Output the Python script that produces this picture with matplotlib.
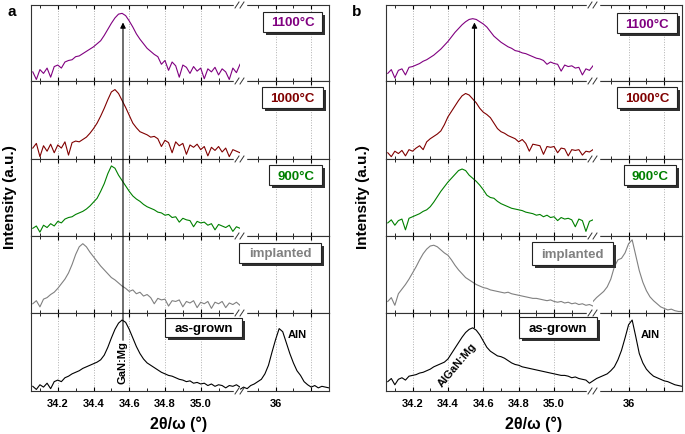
import matplotlib.pyplot as plt
from matplotlib.patches import ConnectionPatch, Rectangle
from matplotlib.lines import Line2D

plt.rcParams['font.family'] = ['Liberation Sans', 'DejaVu Sans']
plt.rcParams['font.weight'] = 'bold'

# 2theta/omega grid (deg)
x_left = [34.06, 34.08, 34.10, 34.12, 34.14, 34.16, 34.18, 34.20, 34.22, 34.24,
          34.26, 34.28, 34.30, 34.32, 34.34, 34.36, 34.38, 34.40, 34.42, 34.44,
          34.46, 34.48, 34.50, 34.52, 34.54, 34.56, 34.58, 34.60, 34.62, 34.64,
          34.66, 34.68, 34.70, 34.72, 34.74, 34.76, 34.78, 34.80, 34.82, 34.84,
          34.86, 34.88, 34.90, 34.92, 34.94, 34.96, 34.98, 35.00, 35.02, 35.04,
          35.06, 35.08, 35.10, 35.12, 35.14, 35.16, 35.18, 35.20, 35.22]
x_right = [35.80, 35.82, 35.84, 35.86, 35.88, 35.90, 35.92, 35.94, 35.96, 35.98,
           36.00, 36.02, 36.04, 36.06, 36.08, 36.10, 36.12, 36.14, 36.16, 36.18,
           36.20, 36.22, 36.24, 36.26, 36.28, 36.30]

labels = ['1100°C', '1000°C', '900°C', 'implanted', 'as-grown']
colors = ['#800080', '#800000', '#008000', '#808080', '#000000']

# panel a (GaN:Mg), normalised intensity
a_1100 = [0.12, 0.02, 0.15, 0.10, 0.17, 0.05, 0.19, 0.21, 0.17, 0.25,
          0.27, 0.28, 0.32, 0.33, 0.36, 0.39, 0.42, 0.45, 0.49, 0.53,
          0.60, 0.68, 0.76, 0.83, 0.88, 0.89, 0.86, 0.79, 0.71, 0.62,
          0.55, 0.49, 0.43, 0.39, 0.35, 0.32, 0.22, 0.27, 0.14, 0.25,
          0.20, 0.05, 0.21, 0.18, 0.10, 0.19, 0.13, 0.17, 0.03, 0.16,
          0.12, 0.18, 0.08, 0.16, 0.12, 0.02, 0.17, 0.11, 0.22]
a_1000 = [0.14, 0.20, 0.03, 0.17, 0.10, 0.19, 0.08, 0.18, 0.14, 0.22,
          0.05, 0.21, 0.23, 0.22, 0.25, 0.28, 0.33, 0.39, 0.46, 0.55,
          0.65, 0.76, 0.86, 0.89, 0.84, 0.75, 0.66, 0.56, 0.46, 0.40,
          0.35, 0.33, 0.31, 0.28, 0.29, 0.26, 0.16, 0.24, 0.21, 0.08,
          0.22, 0.17, 0.20, 0.06, 0.18, 0.15, 0.19, 0.12, 0.16, 0.04,
          0.15, 0.11, 0.16, 0.09, 0.14, 0.03, 0.12, 0.10, 0.08]
a_900 = [0.10, 0.13, 0.05, 0.14, 0.11, 0.16, 0.13, 0.19, 0.17, 0.22,
         0.24, 0.25, 0.28, 0.30, 0.32, 0.35, 0.39, 0.44, 0.49, 0.58,
         0.68, 0.81, 0.91, 0.88, 0.79, 0.72, 0.65, 0.58, 0.52, 0.48,
         0.45, 0.41, 0.38, 0.36, 0.34, 0.31, 0.30, 0.27, 0.28, 0.24,
         0.25, 0.18, 0.23, 0.21, 0.20, 0.12, 0.19, 0.17, 0.18, 0.14,
         0.16, 0.08, 0.15, 0.13, 0.11, 0.14, 0.06, 0.12, 0.10]
a_impl = [0.12, 0.16, 0.08, 0.18, 0.20, 0.24, 0.27, 0.32, 0.38, 0.44,
          0.52, 0.63, 0.76, 0.86, 0.90, 0.86, 0.79, 0.73, 0.67, 0.61,
          0.56, 0.51, 0.46, 0.43, 0.39, 0.35, 0.32, 0.28, 0.30, 0.25,
          0.27, 0.22, 0.24, 0.20, 0.12, 0.19, 0.17, 0.18, 0.09, 0.16,
          0.15, 0.17, 0.08, 0.15, 0.13, 0.16, 0.07, 0.14, 0.12, 0.15,
          0.06, 0.14, 0.12, 0.15, 0.07, 0.13, 0.11, 0.14, 0.10]
a_grown = [0.06, 0.02, 0.08, 0.05, 0.10, 0.03, 0.12, 0.14, 0.12, 0.17,
           0.19, 0.22, 0.24, 0.26, 0.29, 0.31, 0.33, 0.35, 0.37, 0.40,
           0.46, 0.56, 0.68, 0.79, 0.87, 0.91, 0.88, 0.79, 0.68, 0.57,
           0.48, 0.41, 0.36, 0.33, 0.30, 0.27, 0.24, 0.22, 0.20, 0.19,
           0.17, 0.15, 0.14, 0.12, 0.13, 0.10, 0.11, 0.09, 0.10, 0.07,
           0.09, 0.06, 0.08, 0.07, 0.04, 0.07, 0.06, 0.08, 0.05]
a_grown_aln = [0.02, 0.05, 0.03, 0.07, 0.09, 0.12, 0.15, 0.22, 0.33, 0.50,
               0.66, 0.80, 0.76, 0.62, 0.48, 0.36, 0.26, 0.20, 0.12, 0.08,
               0.05, 0.07, 0.04, 0.06, 0.05, 0.04]

# panel b (AlGaN:Mg)
b_1100 = [0.10, 0.15, 0.04, 0.14, 0.16, 0.08, 0.18, 0.19, 0.21, 0.23,
          0.26, 0.28, 0.31, 0.34, 0.38, 0.42, 0.47, 0.52, 0.58, 0.64,
          0.69, 0.74, 0.78, 0.81, 0.82, 0.81, 0.78, 0.75, 0.71, 0.65,
          0.59, 0.55, 0.51, 0.48, 0.45, 0.43, 0.40, 0.39, 0.37, 0.36,
          0.34, 0.32, 0.30, 0.29, 0.27, 0.22, 0.25, 0.23, 0.22, 0.13,
          0.21, 0.19, 0.20, 0.17, 0.18, 0.08, 0.16, 0.14, 0.20]
b_1000 = [0.08, 0.03, 0.10, 0.07, 0.11, 0.04, 0.12, 0.10, 0.14, 0.17,
          0.12, 0.22, 0.26, 0.29, 0.32, 0.36, 0.44, 0.54, 0.61, 0.68,
          0.75, 0.81, 0.84, 0.82, 0.77, 0.72, 0.65, 0.60, 0.57, 0.53,
          0.46, 0.39, 0.35, 0.33, 0.30, 0.28, 0.26, 0.22, 0.25, 0.20,
          0.10, 0.19, 0.18, 0.17, 0.06, 0.16, 0.15, 0.16, 0.08, 0.14,
          0.13, 0.04, 0.12, 0.11, 0.12, 0.05, 0.10, 0.09, 0.12]
b_900 = [0.17, 0.21, 0.14, 0.20, 0.22, 0.08, 0.23, 0.25, 0.27, 0.29,
         0.32, 0.34, 0.38, 0.44, 0.51, 0.58, 0.64, 0.70, 0.75, 0.80,
         0.85, 0.87, 0.85, 0.79, 0.75, 0.71, 0.66, 0.60, 0.53, 0.50,
         0.49, 0.45, 0.42, 0.40, 0.38, 0.36, 0.35, 0.34, 0.33, 0.31,
         0.30, 0.29, 0.27, 0.28, 0.25, 0.27, 0.24, 0.25, 0.20, 0.24,
         0.22, 0.23, 0.21, 0.12, 0.22, 0.20, 0.06, 0.19, 0.21]
b_impl = [0.15, 0.20, 0.10, 0.25, 0.31, 0.37, 0.44, 0.52, 0.60, 0.69,
          0.77, 0.83, 0.87, 0.88, 0.86, 0.82, 0.78, 0.75, 0.69, 0.62,
          0.56, 0.51, 0.46, 0.43, 0.40, 0.37, 0.35, 0.33, 0.32, 0.30,
          0.29, 0.28, 0.27, 0.26, 0.27, 0.25, 0.24, 0.23, 0.22, 0.21,
          0.20, 0.19, 0.19, 0.18, 0.17, 0.16, 0.17, 0.15, 0.14, 0.15,
          0.13, 0.14, 0.12, 0.13, 0.11, 0.12, 0.10, 0.11, 0.09]
b_impl_aln = [0.15, 0.20, 0.24, 0.28, 0.34, 0.44, 0.60, 0.69, 0.71, 0.78,
              0.90, 0.95, 0.75, 0.55, 0.40, 0.29, 0.21, 0.16, 0.12, 0.08,
              0.06, 0.04, 0.05, 0.03, 0.02, 0.02]
b_grown = [0.12, 0.16, 0.08, 0.15, 0.17, 0.14, 0.19, 0.20, 0.21, 0.23,
           0.24, 0.26, 0.28, 0.31, 0.33, 0.35, 0.37, 0.41, 0.48, 0.55,
           0.62, 0.69, 0.75, 0.79, 0.81, 0.78, 0.72, 0.64, 0.56, 0.51,
           0.48, 0.45, 0.44, 0.42, 0.39, 0.36, 0.34, 0.33, 0.31, 0.30,
           0.29, 0.28, 0.27, 0.26, 0.25, 0.24, 0.23, 0.22, 0.21, 0.20,
           0.20, 0.19, 0.17, 0.18, 0.16, 0.15, 0.14, 0.10, 0.13]
b_grown_aln = [0.13, 0.16, 0.18, 0.20, 0.22, 0.26, 0.31, 0.40, 0.52, 0.68,
               0.85, 0.91, 0.70, 0.48, 0.36, 0.28, 0.23, 0.19, 0.17, 0.15,
               0.13, 0.12, 0.10, 0.08, 0.07, 0.06]

panels = {
    'a': [(a_1100, None), (a_1000, None), (a_900, None), (a_impl, None), (a_grown, a_grown_aln)],
    'b': [(b_1100, None), (b_1000, None), (b_900, None), (b_impl, b_impl_aln), (b_grown, b_grown_aln)],
}

W, H = 685, 434
fig = plt.figure(figsize=(W / 100, H / 100), dpi=100)


def fx(px):
    return px / W


def fy(py):
    return 1 - py / H


rows = [5, 81, 159, 236, 313, 391]
# left edge, break, right edge in pixels
geom = {'a': (31, 240, 329), 'b': (386, 593, 682)}
boxes = {
    'a': [(263, 322, 12, 32), (262, 323, 87, 108), (269, 322, 165, 185),
          (239, 321, 243, 263), (165, 242, 318, 337)],
    'b': [(617, 677, 13, 33), (617, 677, 87, 108), (624, 676, 165, 185),
          (532, 613, 242, 265), (519, 597, 317, 338)],
}

major_l = [34.2, 34.4, 34.6, 34.8, 35.0]
minor_l = [34.1, 34.3, 34.5, 34.7, 34.9, 35.1]
major_r = [36.0, 36.2]
minor_r = [35.9, 36.1, 36.3]

axes = {}
for key, (xl, xb, xr) in geom.items():
    axes[key] = []
    for i, (yl, yr) in enumerate(panels[key]):
        y0, y1 = rows[i], rows[i + 1]
        axl = fig.add_axes([fx(xl), fy(y1), fx(xb - xl), (y1 - y0) / H])
        axr = fig.add_axes([fx(xb), fy(y1), fx(xr - xb), (y1 - y0) / H])
        axl.plot(x_left, yl, color=colors[i], lw=0.8)
        if yr is not None:
            axr.plot(x_right, yr, color=colors[i], lw=0.8)
        axl.set_xlim(34.05, 35.22)
        axr.set_xlim(35.80, 36.30)
        axl.set_xticks(major_l)
        axl.set_xticks(minor_l, minor=True)
        axr.set_xticks(major_r)
        axr.set_xticks(minor_r, minor=True)
        for ax in (axl, axr):
            ax.set_ylim(0, 1)
            ax.set_yticks([])
            ax.tick_params(axis='x', which='both', direction='in', top=True, bottom=True)
            ax.tick_params(axis='x', which='major', length=3, labelsize=8, pad=6)
            ax.tick_params(axis='x', which='minor', length=2)
            ax.grid(axis='x', which='major', ls=':', color='#b0b0b0', lw=0.7)
            for s in ax.spines.values():
                s.set_linewidth(0.8)
                s.set_color('#333333')
        axl.spines['right'].set_visible(False)
        axr.spines['left'].set_visible(False)
        if i < 4:
            axl.set_xticklabels([])
            axr.set_xticklabels([])
        else:
            axl.set_xticklabels(['34.2', '34.4', '34.6', '34.8', '35.0'])
            axr.set_xticklabels(['36', ''])
        axes[key].append((axl, axr))

    # break marks
    for yb in rows:
        fig.add_artist(Line2D([fx(xb - 5), fx(xb + 5)], [fy(yb), fy(yb)], color='white', lw=2.5))
        for dx in (-3, 2):
            fig.add_artist(Line2D([fx(xb + dx - 2), fx(xb + dx + 2)], [fy(yb + 3), fy(yb - 3)],
                                  color='#333333', lw=0.7))

    # labelled boxes with shadow
    for i, (x0, x1, y0, y1) in enumerate(boxes[key]):
        fig.add_artist(Rectangle((fx(x0 + 3), fy(y1 + 3)), fx(x1 - x0), (y1 - y0) / H,
                                 transform=fig.transFigure, facecolor='#303030', edgecolor='none'))
        fig.add_artist(Rectangle((fx(x0), fy(y1)), fx(x1 - x0), (y1 - y0) / H,
                                 transform=fig.transFigure, facecolor='white',
                                 edgecolor='#222222', lw=0.8))
        fig.text(fx((x0 + x1) / 2), fy((y0 + y1) / 2), labels[i], color=colors[i],
                 fontsize=9.5, fontweight='bold', ha='center', va='center_baseline', zorder=5)

# peak position arrows
for key, x0, yb in (('a', 34.565, 0.65), ('b', 34.55, 0.81)):
    bot = axes[key][4][0]
    top = axes[key][0][0]
    fig.add_artist(ConnectionPatch(xyA=(x0, yb), coordsA=bot.transData,
                                   xyB=(x0, 0.77), coordsB=top.transData,
                                   arrowstyle='-|>', mutation_scale=8, color='black', lw=0.8))

axes['a'][4][0].text(34.565, 0.36, 'GaN:Mg', rotation=90, ha='center', va='center', fontsize=8)
axes['b'][4][0].text(34.455, 0.33, 'AlGaN:Mg', rotation=50, ha='center', va='center', fontsize=8)
axes['a'][4][1].text(36.07, 0.72, 'AlN', ha='left', va='center', fontsize=8)
axes['b'][4][1].text(36.07, 0.72, 'AlN', ha='left', va='center', fontsize=8)

fig.text(fx(12), fy(12), 'a', fontsize=11, fontweight='bold', ha='center', va='center')
fig.text(fx(357), fy(12), 'b', fontsize=11, fontweight='bold', ha='center', va='center')
fig.text(fx(10), fy(197), 'Intensity (a.u.)', rotation=90, fontsize=11, ha='center', va='center')
fig.text(fx(363), fy(197), 'Intensity (a.u.)', rotation=90, fontsize=11, ha='center', va='center')
fig.text(fx(179), fy(424), '2θ/ω (°)', fontsize=11.5, ha='center', va='center')
fig.text(fx(534), fy(424), '2θ/ω (°)', fontsize=11.5, ha='center', va='center')

fig.savefig('out.png', dpi=100)
